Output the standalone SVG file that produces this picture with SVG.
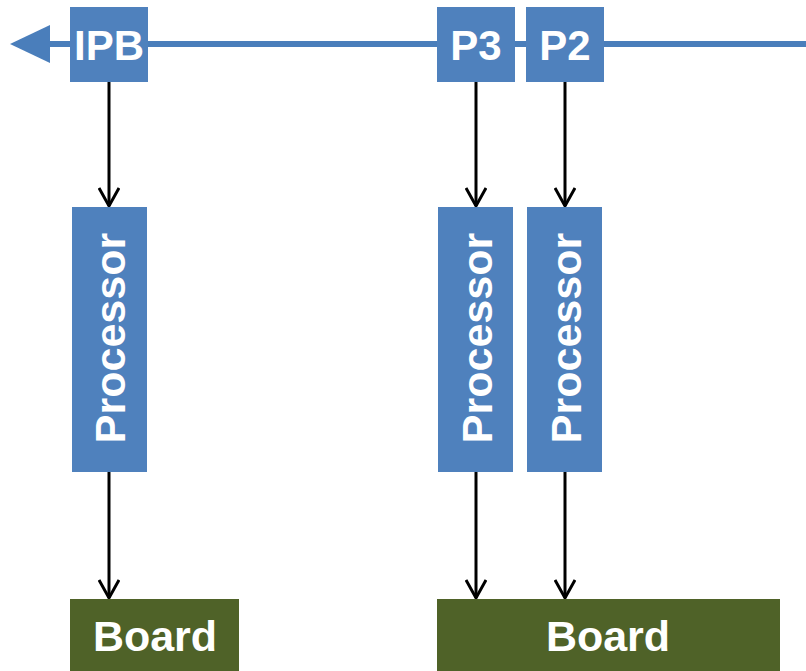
<svg xmlns="http://www.w3.org/2000/svg" width="806" height="671" viewBox="0 0 806 671">
<style>
.blue{fill:#4F81BD}
.green{fill:#4F6228}
.t{font-family:"Liberation Sans",Arial,sans-serif;font-weight:bold;fill:#fff;text-anchor:middle}
.c{stroke:#000;stroke-width:3;fill:none}
.bus{stroke:#4A7EBB;stroke-width:6;fill:none}
</style>
<defs>
<marker id="ah" markerUnits="userSpaceOnUse" markerWidth="26" markerHeight="22" refX="22" refY="11" orient="auto" viewBox="0 0 26 22">
<path d="M4,1 L22,11 L4,21" fill="none" stroke="#000" stroke-width="3"/>
</marker>
</defs>
<g id="bus">
<line class="bus" x1="48" y1="44" x2="806" y2="44"/>
<polygon points="10,44 50,25 50,63" fill="#4A7EBB"/>
</g>
<g id="connectors">
<line class="c" x1="109" y1="82" x2="109" y2="206" marker-end="url(#ah)"/>
<line class="c" x1="476" y1="82" x2="476" y2="206" marker-end="url(#ah)"/>
<line class="c" x1="565" y1="82" x2="565" y2="206" marker-end="url(#ah)"/>
<line class="c" x1="109" y1="472" x2="109" y2="598" marker-end="url(#ah)"/>
<line class="c" x1="476" y1="472" x2="476" y2="598" marker-end="url(#ah)"/>
<line class="c" x1="565" y1="472" x2="565" y2="598" marker-end="url(#ah)"/>
</g>
<g id="ipb"><rect class="blue" x="70" y="7" width="78" height="75"/><text class="t" x="109" y="60" font-size="42">IPB</text></g>
<g id="p3"><rect class="blue" x="437" y="7" width="78" height="75"/><text class="t" x="476" y="60" font-size="42">P3</text></g>
<g id="p2"><rect class="blue" x="526" y="7" width="78" height="75"/><text class="t" x="565" y="60" font-size="42">P2</text></g>
<g id="proc1"><rect class="blue" x="72" y="207" width="75" height="265"/><text class="t" font-size="43" transform="translate(125,338) rotate(-90)">Processor</text></g>
<g id="proc3"><rect class="blue" x="438" y="207" width="75" height="265"/><text class="t" font-size="43" transform="translate(492,338) rotate(-90)">Processor</text></g>
<g id="proc2"><rect class="blue" x="527" y="207" width="75" height="265"/><text class="t" font-size="43" transform="translate(581,338) rotate(-90)">Processor</text></g>
<g id="board1"><rect class="green" x="70" y="599" width="169" height="72"/><text class="t" x="155" y="651" font-size="43">Board</text></g>
<g id="board2"><rect class="green" x="437" y="599" width="343" height="72"/><text class="t" x="608" y="651" font-size="43">Board</text></g>
</svg>
